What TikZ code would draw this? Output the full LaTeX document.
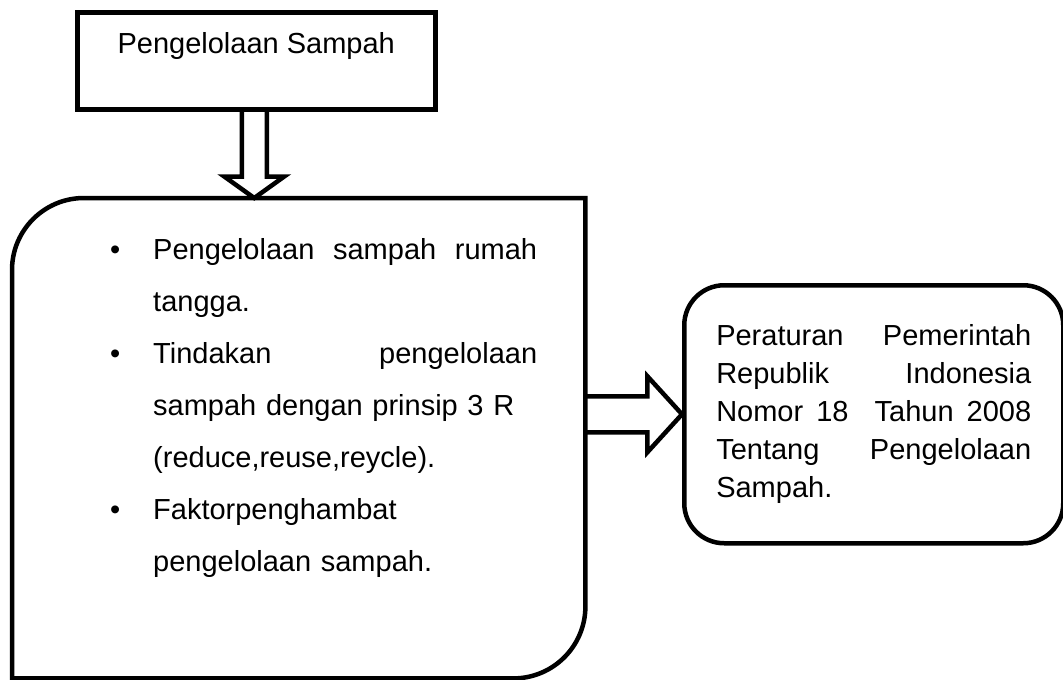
\documentclass[tikz,border=0pt]{standalone}
\usepackage{fontspec}
\setmainfont{Liberation Sans}
\usetikzlibrary{calc}

\tikzset{
  garis/.style={draw, line width=4.5pt},
  panah/.style={draw, line width=4.5pt, line join=miter},
}

\begin{document}
\begin{tikzpicture}[x=1pt, y=1pt]
  \useasboundingbox (0,0) rectangle (1063,-680);
  \node [garis, anchor=north west, minimum width=358pt, minimum height=97pt,
    inner ysep=4pt, text height=37pt, text depth=52pt,
    font=\fontsize{29}{34}\selectfont] (judul) at (75,-10) {Pengelolaan Sampah};
  \node [anchor=north west, minimum width=573pt, minimum height=480pt,
    inner sep=0pt] (kotak) at (12,-198) {};
  \node [anchor=base west, text width=427pt, align=left, inner sep=0pt,
    font=\fontsize{29}{52}\selectfont] (daftar) at (110,-259) {%
    \makebox[43pt][l]{\textbullet}\makebox[384pt][l]{Pengelolaan\hfill sampah\hfill rumah}\\
    \hspace*{43pt}tangga.\\
    \makebox[43pt][l]{\textbullet}\makebox[384pt][l]{Tindakan\hfill pengelolaan}\\
    \hspace*{43pt}sampah dengan prinsip 3 R\\
    \hspace*{43pt}(reduce,reuse,reycle).\\
    \makebox[43pt][l]{\textbullet}Faktorpenghambat\\
    \hspace*{43pt}pengelolaan sampah.};
  \node [garis, rounded corners=40pt, anchor=north west, minimum width=379pt,
    minimum height=258pt, text width=315pt, align=left,
    font=\fontsize{29}{38}\selectfont] (pp) at (682,-283) {%
    \makebox[315pt][l]{Peraturan\hfill Pemerintah}\\
    \makebox[315pt][l]{Republik\hfill Indonesia}\\
    \makebox[315pt][l]{Nomor\hfill 18\hfill\hfill Tahun\hfill 2008}\\
    \makebox[315pt][l]{Tentang\hfill Pengelolaan}\\
    Sampah.};

  \draw [garis] (kotak.south west) -- ($(kotak.north west)+(0,-72)$)
    arc [start angle=180, end angle=90, radius=72pt] -- (kotak.north east)
    -- ($(kotak.south east)+(0,72)$)
    arc [start angle=0, end angle=-90, radius=72pt] -- cycle;

  \coordinate (ujung) at ($(judul.south |- kotak.north)+(-2,0)$);
  \draw [panah] ($(judul.south)+(-14.5,0)$) -- ($(judul.south)+(-14.5,-65)$)
    -- ($(judul.south)+(-32,-65)$) -- (ujung) -- ($(judul.south)+(28,-65)$)
    -- ($(judul.south)+(10.5,-65)$) -- ($(judul.south)+(10.5,0)$);

  \coordinate (pangkal) at (kotak.east |- pp.west);
  \draw [panah] ($(pangkal)+(0,18)$) -- ($(pangkal)+(62,18)$)
    -- ($(pangkal)+(62,38)$) -- (pp.west) -- ($(pangkal)+(62,-38)$)
    -- ($(pangkal)+(62,-18)$) -- ($(pangkal)+(0,-18)$);
\end{tikzpicture}
\end{document}
